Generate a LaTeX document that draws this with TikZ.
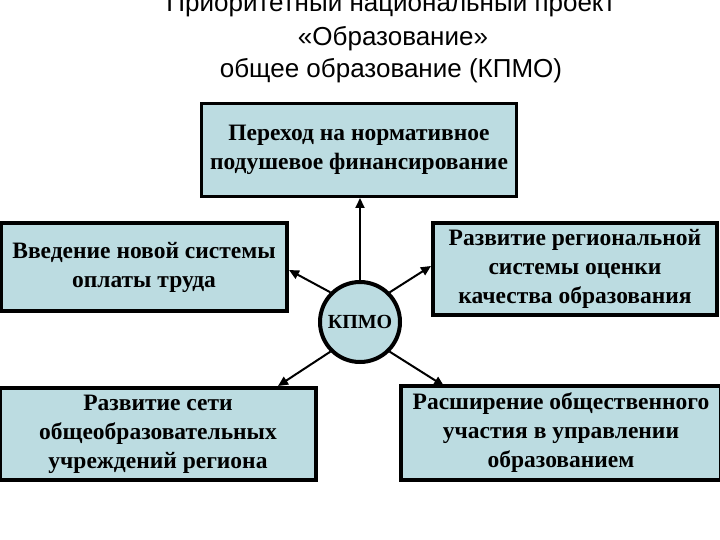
\documentclass[tikz,border=0pt]{standalone}
\usepackage{fontspec}
\setmainfont{Liberation Serif}
\newfontfamily\titlefont{Liberation Sans}
\usetikzlibrary{arrows.meta}
\definecolor{boxfill}{HTML}{BCDCE1}
\tikzset{
  x=1pt,y=-1pt,
  box/.style={draw=black, line width=3.5pt, fill=boxfill, align=center,
    font=\fontsize{23.5}{29}\selectfont\bfseries, inner sep=0pt},
  hub/.style={circle, draw=black, line width=4pt, fill=boxfill,
    minimum size=80pt, inner sep=0pt, font=\fontsize{20}{24}\selectfont\bfseries},
  link/.style={line width=2pt, -{Triangle[length=10pt,width=9pt]}},
  ttl/.style={font=\titlefont\fontsize{26}{32}\selectfont, anchor=base}
}
\begin{document}
\begin{tikzpicture}
\useasboundingbox (0,0) rectangle (720,540);
\clip (0,0) rectangle (720,540);
\fill[white] (0,0) rectangle (720,540);
\node[ttl] (t1) at (391,12) {Приоритетный национальный проект};
\node[ttl] (t2) at (393,46) {«Образование»};
\node[ttl] (t3) at (391,78) {общее образование (КПМО)};

\node[box, minimum width=315pt, minimum height=93pt] (top) at (359,150)
  {Переход на нормативное\\подушевое финансирование};
\node[box, minimum width=286pt, minimum height=88pt] (left) at (144,267)
  {Введение новой системы\\оплаты труда};
\node[box, minimum width=284pt, minimum height=92pt] (right) at (575,269)
  {Развитие региональной\\системы оценки\\качества образования};
\node[box, minimum width=316pt, minimum height=92pt] (bl) at (158,434)
  {Развитие сети\\общеобразовательных\\учреждений региона};
\node[box, minimum width=320pt, minimum height=94pt] (br) at (561,433)
  {Расширение общественного\\участия в управлении\\образованием};

\node[hub] (c) at (360,322) {КПМО};

\coordinate (eT) at (360,198);
\coordinate (eL) at (289,270);
\coordinate (eR) at (431,266);
\coordinate (eBL) at (278,386);
\coordinate (eBR) at (444,386);
\draw[link] (c.north) -- (eT);
\draw[link] (c.135) -- (eL);
\draw[link] (c.45) -- (eR);
\draw[link] (c.-135) -- (eBL);
\draw[link] (c.-45) -- (eBR);
\end{tikzpicture}
\end{document}
